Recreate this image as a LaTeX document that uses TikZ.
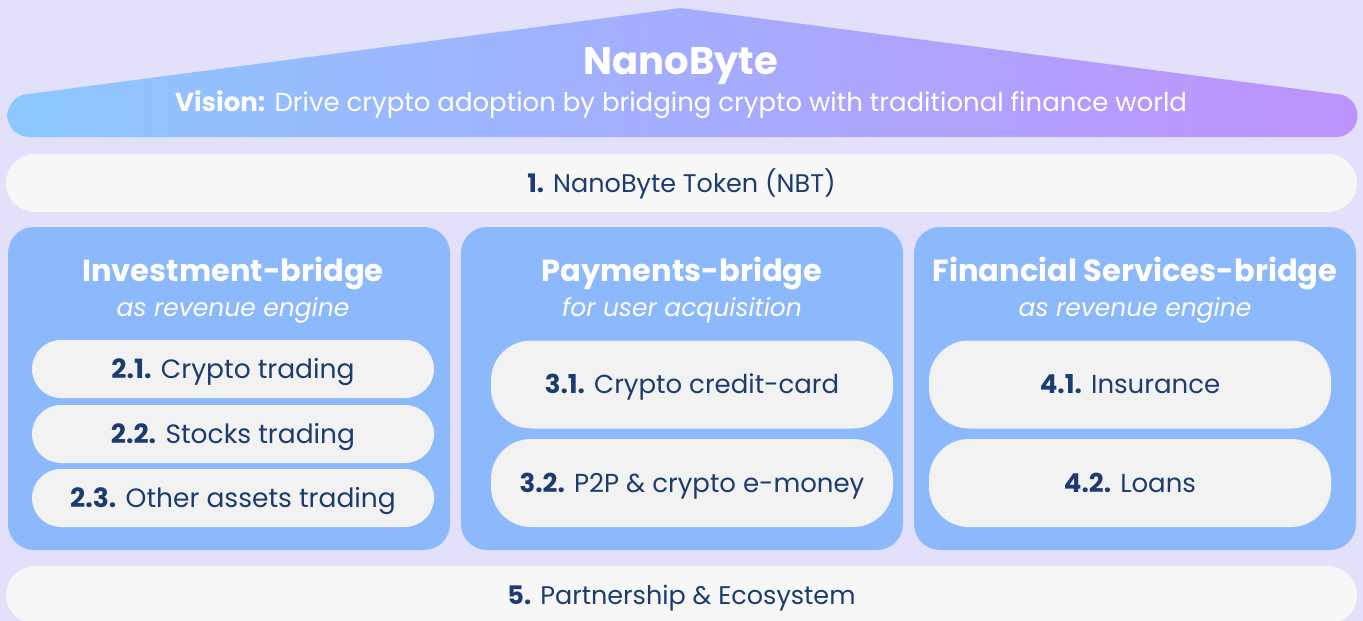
\documentclass[tikz,border=0pt]{standalone}
\usepackage{fontspec}
\setmainfont{Poppins}
\definecolor{bg}{HTML}{E3E0FC}
\definecolor{roofL}{HTML}{8CC8FF}
\definecolor{roofR}{HTML}{BE92FC}
\definecolor{bar}{HTML}{F7F7F7}
\definecolor{panel}{HTML}{8CB9FC}
\definecolor{item}{HTML}{F2F2F2}
\definecolor{navy}{HTML}{1C3B70}
\tikzset{
  ctext/.style={text height=18pt, text depth=0pt},
  barbox/.style={ctext, fill=bar, rounded corners=29pt, minimum width=1351pt, minimum height=58pt, inner sep=0pt, text=navy, font=\fontsize{25.5}{30}\selectfont},
  panelbox/.style={fill=panel, rounded corners=26pt, minimum width=442pt, minimum height=323pt, inner sep=0pt},
  smallitem/.style={ctext, fill=item, rounded corners=29pt, minimum width=402pt, minimum height=58pt, inner sep=0pt, text=navy, font=\fontsize{26.5}{30}\selectfont},
  bigitem/.style={ctext, fill=item, rounded corners=40pt, minimum width=402pt, minimum height=88pt, inner sep=0pt, text=navy, font=\fontsize{26}{30}\selectfont},
  ptitle/.style={text=white, inner sep=0pt, font=\bfseries\fontsize{30.5}{35}\selectfont},
  psub/.style={text=white, inner sep=0pt, font=\itshape\fontsize{25}{29}\selectfont},
}
\begin{document}
\begin{tikzpicture}[x=1pt,y=-1pt]
\useasboundingbox (0,0) rectangle (1363,621);
\clip (0,0) rectangle (1363,621);
\fill[bg] (0,0) rectangle (1363,621);
% roof
\shade[left color=roofL, right color=roofR]
  (681,8) -- (1336,94) arc[start angle=270, end angle=450, radius=21.5]
  -- (29,137) arc[start angle=90, end angle=270, radius=21.5] -- cycle;
\node[text=white, inner sep=0pt, font=\bfseries\fontsize{38.5}{42}\selectfont] (title) at (681,66) {NanoByte};
\node[text=white, inner sep=0pt, font=\fontsize{26}{30}\selectfont] (vision) at (681,105) {\textbf{Vision:} Drive crypto adoption by bridging crypto with traditional finance world};
% token bar
\node[barbox] (token) at (681.5,183) {\textbf{1.} NanoByte Token (NBT)};
% panels
\node[panelbox] (p1) at (229,388.5) {};
\node[panelbox] (p2) at (682,388.5) {};
\node[panelbox] (p3) at (1135,388.5) {};
\node[ptitle] (t1) at (233,273) {Investment-bridge};
\node[psub] (s1) at (233,310) {as revenue engine};
\node[ptitle] (t2) at (682,273) {Payments-bridge};
\node[psub] (s2) at (682,310) {for user acquisition};
\node[ptitle] (t3) at (1135,273) {Financial Services-bridge};
\node[psub] (s3) at (1135,310) {as revenue engine};
% items
\node[smallitem] (i21) at (233,369) {\textbf{2.1.} Crypto trading};
\node[smallitem] (i22) at (233,434) {\textbf{2.2.} Stocks trading};
\node[smallitem] (i23) at (233,498) {\textbf{2.3.} Other assets trading};
\node[bigitem] (i31) at (692,384.5) {\textbf{3.1.} Crypto credit-card};
\node[bigitem] (i32) at (692,483) {\textbf{3.2.} P2P \& crypto e-money};
\node[bigitem] (i41) at (1130,384.5) {\textbf{4.1.} Insurance};
\node[bigitem] (i42) at (1130,483) {\textbf{4.2.} Loans};
% bottom bar
\node[barbox] (eco) at (681.5,595) {\textbf{5.} Partnership \& Ecosystem};
\end{tikzpicture}
\end{document}
